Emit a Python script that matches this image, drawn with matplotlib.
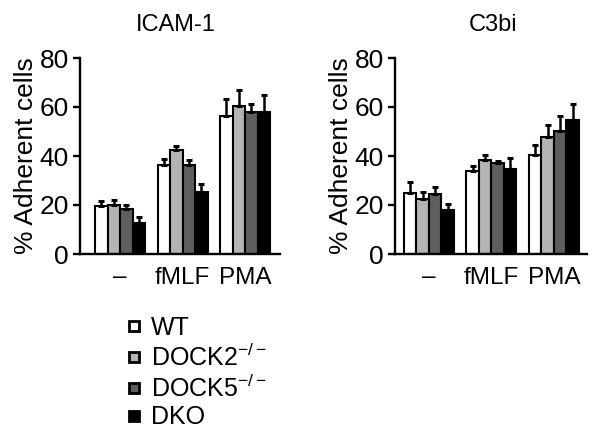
import matplotlib
matplotlib.use("Agg")
import matplotlib.pyplot as plt
import matplotlib.transforms as mtransforms
import numpy as np
from matplotlib.lines import Line2D

plt.rcParams['font.family'] = ['Liberation Sans', 'DejaVu Sans']
plt.rcParams['mathtext.fontset'] = 'custom'
plt.rcParams['mathtext.rm'] = 'Liberation Sans'
plt.rcParams['mathtext.it'] = 'Liberation Sans'

# data
conditions = ["\u2013", "fMLF", "PMA"]
genotypes = ["WT", r"DOCK2$^{-/-}$", r"DOCK5$^{-/-}$", "DKO"]
colors = ["white", "#b4b4b4", "#5e5e5e", "black"]

icam_mean = [[19.7, 36.2, 56.5],
             [19.9, 42.3, 60.3],
             [18.5, 36.2, 58.0],
             [12.7, 25.2, 58.0]]
icam_err = [[1.8, 2.6, 6.8],
            [2.3, 1.6, 6.5],
            [1.4, 2.0, 3.2],
            [2.3, 3.4, 6.8]]

c3bi_mean = [[24.9, 33.7, 40.5],
             [22.4, 38.5, 47.6],
             [24.5, 37.1, 50.3],
             [17.8, 34.7, 54.8]]
c3bi_err = [[4.4, 2.3, 3.9],
            [2.9, 1.8, 5.2],
            [2.7, 0.8, 5.9],
            [2.6, 4.5, 6.4]]

fig = plt.figure(figsize=(6.02, 4.38), dpi=100)
W, H = 602, 438


def panel(rect_px, xlim, title, title_x, means, errs):
    x0, y0, x1, y1 = rect_px
    ax = fig.add_axes([x0 / W, 1 - y1 / H, (x1 - x0) / W, (y1 - y0) / H])
    x = np.arange(len(conditions))
    bw = 0.2
    for i in range(len(genotypes)):
        pos = x - 0.3 + i * bw
        ax.bar(pos, means[i], bw, color=colors[i], edgecolor="black",
               linewidth=1.5, zorder=2)
        ax.errorbar(pos, means[i], yerr=[np.zeros(3), errs[i]], fmt="none",
                    ecolor="black", elinewidth=1.8, capsize=2.5,
                    capthick=2.2, zorder=3)
    ax.set_xlim(*xlim)
    ax.set_ylim(0, 80)
    ax.set_yticks([0, 20, 40, 60, 80])
    ax.set_xticks(x)
    ax.set_xticklabels(conditions, fontsize=17.5)
    # fMLF sits a little left of its group centre
    lab = ax.get_xticklabels()[1]
    lab.set_transform(lab.get_transform() +
                      mtransforms.ScaledTranslation(-4 / 100, 0, fig.dpi_scale_trans))
    ax.tick_params(axis="x", length=0, pad=9)
    ax.tick_params(axis="y", length=5, width=1.7, labelsize=19, pad=3)
    ax.spines["top"].set_visible(False)
    ax.spines["right"].set_visible(False)
    ax.spines["left"].set_linewidth(1.7)
    ax.spines["bottom"].set_linewidth(1.7)
    ax.set_ylabel("% Adherent cells", fontsize=19, labelpad=1)
    fig.text(title_x / W, 1 - 25 / H, title, fontsize=17,
             ha="center", va="center")
    return ax


panel((80, 58, 280, 254), (-0.64, 2.56), "ICAM-1", 176, icam_mean, icam_err)
panel((395, 58, 587, 254), (-0.544, 2.53), "C3bi", 493, c3bi_mean, c3bi_err)

handles = [Line2D([], [], linestyle="none", marker="s", markersize=7,
                  markerfacecolor=c, markeredgecolor="black",
                  markeredgewidth=2) for c in colors]
fig.legend(handles, genotypes, loc="upper left",
           bbox_to_anchor=(115 / W, 1 - 306 / H), frameon=False,
           fontsize=18, handlelength=0.7, handletextpad=0.35,
           labelspacing=0.15, borderaxespad=0)

fig.savefig("out.png", dpi=100)
